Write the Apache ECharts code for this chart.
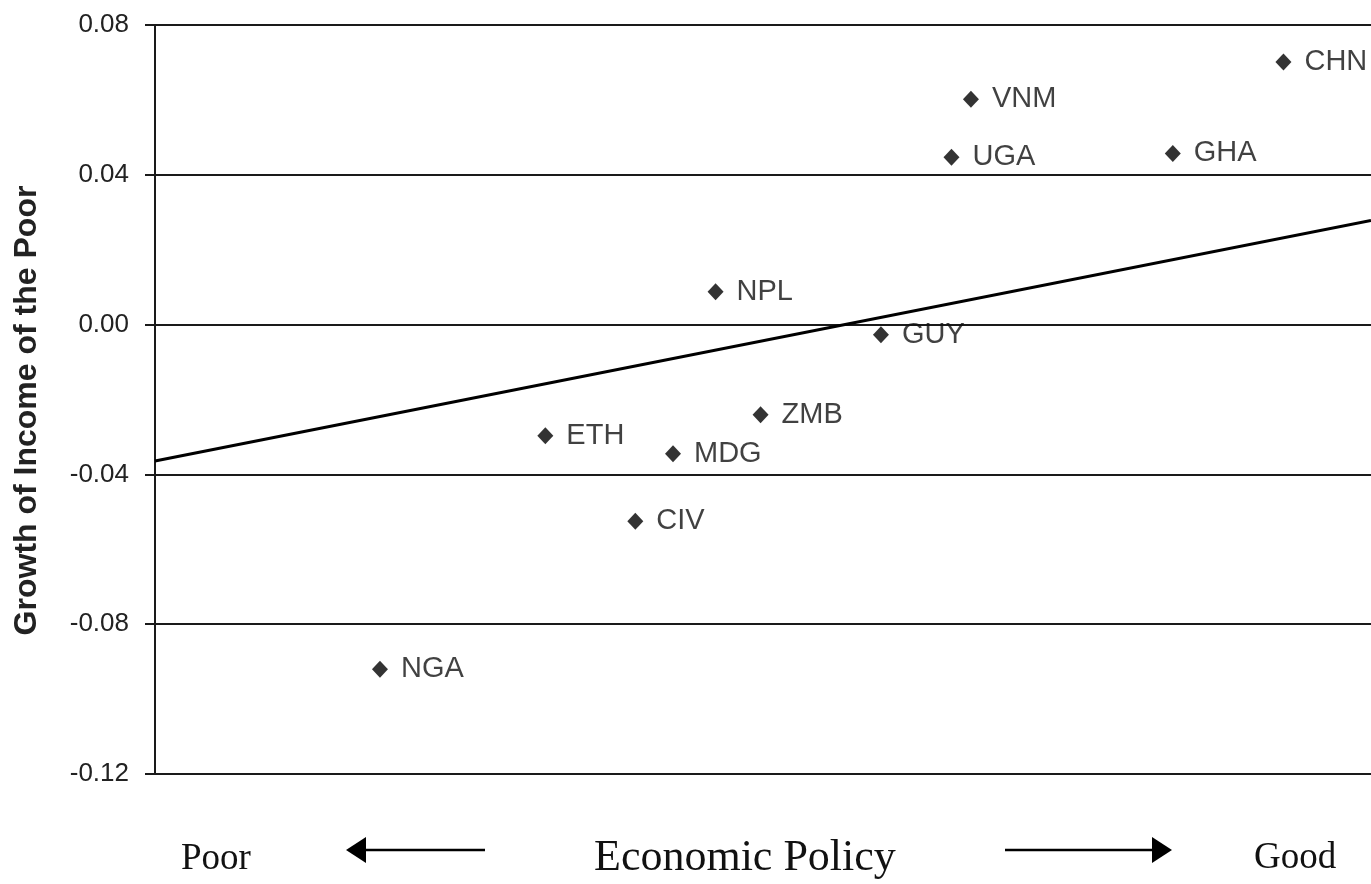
<!DOCTYPE html>
<html>
<head>
<meta charset="utf-8">
<title>Growth of Income of the Poor vs Economic Policy</title>
<script src="https://cdn.jsdelivr.net/npm/echarts@6/dist/echarts.min.js"></script>
<style>
  html, body { margin: 0; padding: 0; background: #fff; }
  #chart { width: 1371px; height: 884px; }
</style>
</head>
<body>
<div id="chart"></div>
<script>
// country codes, policy score (unlabelled x scale 0..10), growth of income of the poor
var countries = ['NGA', 'ETH', 'CIV', 'MDG', 'NPL', 'ZMB', 'GUY', 'UGA', 'VNM', 'GHA', 'CHN']
var policy = [1.85, 3.21, 3.95, 4.26, 4.61, 4.98, 5.97, 6.55, 6.71, 8.37, 9.28]
var growth = [-0.092, -0.0297, -0.0525, -0.0345, 0.0088, -0.0241, -0.0027, 0.0447, 0.0602, 0.0457, 0.0701]

// fitted line end points
var trendX = [0, 10]
var trendY = [-0.0364, 0.0278]

var yTicks = { min: -0.12, max: 0.08, interval: 0.04 }

var chart = echarts.init(document.getElementById('chart'))

var points = countries.map(function (c, i) {
  return { name: c, value: [policy[i], growth[i]] }
})
var trend = trendX.map(function (x, i) {
  return [x, trendY[i]]
})

var lineColor = '#1a1a1a'
var sans = '"Liberation Sans", Arial, sans-serif'
var serif = '"Liberation Serif", "Times New Roman", serif'

chart.setOption({
  animation: false,
  backgroundColor: '#fff',
  grid: {
    left: 155,
    right: 0,
    top: 25,
    bottom: 110
  },
  xAxis: {
    type: 'value',
    min: 0,
    max: 10,
    show: false
  },
  yAxis: {
    type: 'value',
    min: yTicks.min,
    max: yTicks.max,
    interval: yTicks.interval,
    axisLine: { show: true, lineStyle: { color: lineColor, width: 2 } },
    axisTick: { show: true, inside: false, length: 10, lineStyle: { color: lineColor, width: 2 } },
    axisLabel: {
      margin: 26,
      color: '#222',
      fontFamily: sans,
      fontSize: 26,
      formatter: function (v) {
        if (Math.abs(v) < 1e-9) return '0.00'
        return v.toFixed(2)
      }
    },
    splitLine: { show: true, lineStyle: { color: lineColor, width: 2 } },
    name: 'Growth of Income of the Poor',
    nameLocation: 'middle',
    nameGap: 112,
    nameTextStyle: {
      color: '#222',
      fontFamily: sans,
      fontSize: 32,
      fontWeight: 'bold',
      padding: [0, 22, 0, 0]
    }
  },
  series: [
    {
      type: 'line',
      data: trend,
      symbol: 'none',
      lineStyle: { color: '#000', width: 3 },
      z: 3
    },
    {
      type: 'scatter',
      data: points,
      symbol: 'diamond',
      symbolSize: [16, 17],
      itemStyle: { color: '#000' },
      label: {
        show: true,
        position: 'right',
        distance: 13,
        formatter: '{b}',
        color: '#111',
        fontFamily: sans,
        fontSize: 29
      },
      z: 4
    }
  ],
  graphic: [
    {
      type: 'text',
      left: 181,
      top: 841,
      style: { text: 'Poor', font: '37px ' + serif, fill: '#111' }
    },
    {
      type: 'text',
      left: 594,
      top: 836,
      style: { text: 'Economic Policy', font: '44px ' + serif, fill: '#111' }
    },
    {
      type: 'text',
      left: 1254,
      top: 840,
      style: { text: 'Good', font: '37px ' + serif, fill: '#111' }
    },
    {
      type: 'line',
      shape: { x1: 362, y1: 850, x2: 485, y2: 850 },
      style: { stroke: '#000', lineWidth: 2.5 }
    },
    {
      type: 'polygon',
      shape: { points: [[346, 850], [366, 837], [366, 863]] },
      style: { fill: '#000' }
    },
    {
      type: 'line',
      shape: { x1: 1005, y1: 850, x2: 1156, y2: 850 },
      style: { stroke: '#000', lineWidth: 2.5 }
    },
    {
      type: 'polygon',
      shape: { points: [[1172, 850], [1152, 837], [1152, 863]] },
      style: { fill: '#000' }
    }
  ]
})
</script>
</body>
</html>
